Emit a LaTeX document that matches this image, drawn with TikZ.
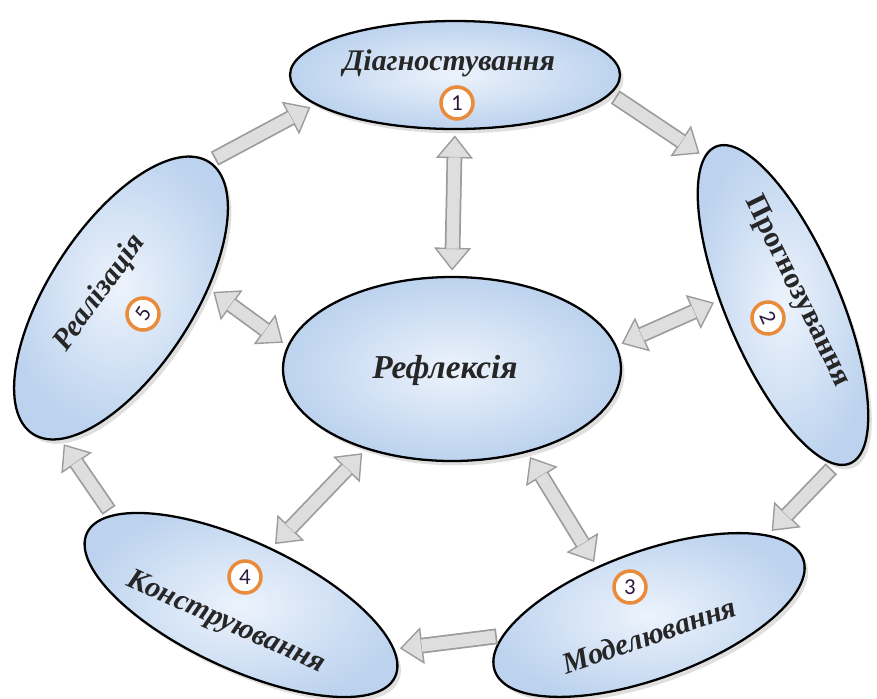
\documentclass[tikz,border=0pt]{standalone}
\usepackage{fontspec}
\setmainfont{Liberation Serif}
\newfontfamily\numfont{Carlito}
\usetikzlibrary{shapes.geometric, arrows.meta, shadows}
\definecolor{ellLight}{HTML}{ECF3FC}
\definecolor{ellDark}{HTML}{BCD2EE}
\definecolor{orangeC}{HTML}{E98B3A}
\definecolor{digitC}{HTML}{2E1C40}
\definecolor{arwFill}{HTML}{DEDEDE}
\definecolor{arwLine}{HTML}{9C9C9C}
\tikzset{
  ell/.style={ellipse, draw=black, line width=1.3pt, inner color=ellLight, outer color=ellDark, inner sep=0pt, drop shadow={shadow xshift=2pt, shadow yshift=-2.5pt, opacity=0.25}},
  lbl/.style={font=\fontsize{17}{19}\selectfont\bfseries\itshape, text=black!85, inner sep=1pt},
  numC/.style={circle, draw=orangeC, line width=2pt, fill=white, minimum size=0.64cm, inner sep=0pt, font=\numfont\fontsize{13}{14}\selectfont, text=digitC},
  blk/.style={line width=9pt, draw=arwLine, shorten <=3pt, shorten >=3pt, -{Triangle[length=13pt, width=21pt, fill=arwFill, line width=0.8pt]}, postaction={draw=arwFill, line width=7pt, -, shorten <=4pt, shorten >=15.5pt}},
  blkd/.style={line width=9pt, draw=arwLine, shorten <=3pt, shorten >=3pt, {Triangle[length=13pt, width=21pt, fill=arwFill, line width=0.8pt]}-{Triangle[length=13pt, width=21pt, fill=arwFill, line width=0.8pt]}, postaction={draw=arwFill, line width=7pt, -, shorten <=15.5pt, shorten >=15.5pt}}
}
\begin{document}
\begin{tikzpicture}[x=0.02cm, y=0.02cm]
  \useasboundingbox (0,0) rectangle (877,-698);

  % ── Ellipses ──
  \node[ell, minimum width=330*0.02cm, minimum height=108*0.02cm] (diag) at (455,-75) {};
  \node[ell, rotate=-67, minimum width=344*0.02cm, minimum height=114*0.02cm] (progn) at (783,-305) {};
  \node[ell, rotate=20, minimum width=328*0.02cm, minimum height=127*0.02cm] (model) at (649,-615) {};
  \node[ell, rotate=-25, minimum width=340*0.02cm, minimum height=127*0.02cm] (konstr) at (241,-605) {};
  \node[ell, rotate=57, minimum width=324*0.02cm, minimum height=144*0.02cm] (real) at (121,-298) {};
  \node[ell, minimum width=338*0.02cm, minimum height=184*0.02cm] (refl) at (452,-369) {};

  % ── Labels ──
  \node[lbl] (t1) at (449,-63) {Діагностування};
  \node[lbl, font=\fontsize{17}{19}\selectfont\bfseries, rotate=-64] (t2) at (797,-291) {Прогнозування};
  \node[lbl, rotate=19] (t3) at (649,-635) {Моделювання};
  \node[lbl, rotate=-24] (t4) at (226,-623) {Конструювання};
  \node[lbl, rotate=54] (t5) at (100,-293) {Реалізація};
  \node[lbl, font=\fontsize{19}{21}\selectfont\bfseries\itshape] (t0) at (445,-370) {Рефлексія};

  \foreach \n/\x/\y/\r in {1/457/103/0, 2/768/318/-66, 3/630/587/0, 4/245/577/0, 5/143/314/56}
    \node[numC, rotate=\r] (n\n) at (\x,-\y) {\n};

  % ── Cycle ──
  \draw[blk] (real.0) -- (diag.192);
  \draw[blk] (diag.-7) -- (progn.185);
  \draw[blk] (progn.-5) -- (model.14);
  \draw[blk] (model.168) -- (konstr.9);
  \draw[blk] (konstr.170) -- (real.190);

  % ── Reflection links ──
  \draw[blkd] (diag.south) -- (refl.north);
  \draw[blkd] (refl.8) -- (progn.243);
  \draw[blkd] (refl.-48) -- (model.117);
  \draw[blkd] (refl.223) -- (konstr.87);
  \draw[blkd] (refl.172) -- (real.-51);
\end{tikzpicture}
\end{document}
